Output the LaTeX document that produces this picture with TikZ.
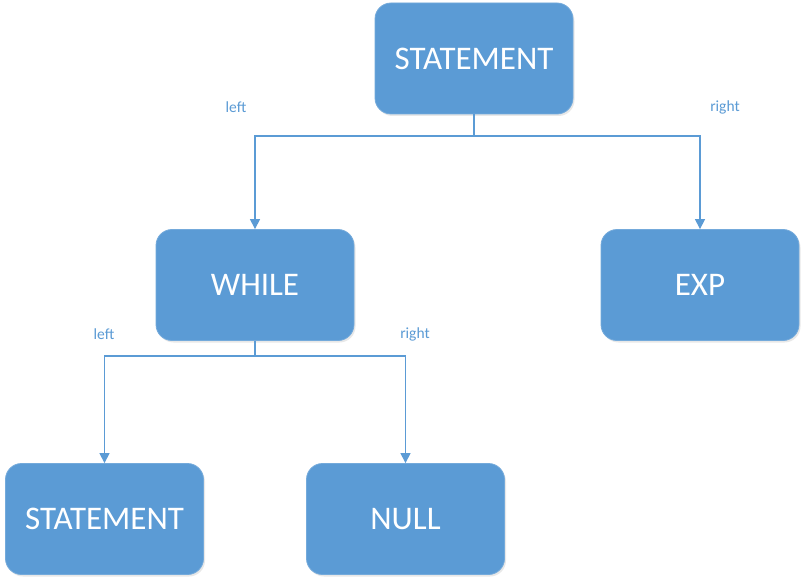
\documentclass[tikz,border=0pt]{standalone}
\usepackage{fontspec}
\setmainfont{Carlito}
\usetikzlibrary{arrows.meta,shadows}
\definecolor{boxblue}{HTML}{5B9BD5}
\tikzset{
  treebox/.style={draw=boxblue!85!white, line width=0.8pt, fill=boxblue, rounded corners=16pt,
    minimum width=198pt, minimum height=111pt, inner sep=0pt, text=white,
    font=\fontsize{33}{38}\selectfont,
    drop shadow={opacity=0.18, shadow xshift=1.5pt, shadow yshift=-2pt}},
  link/.style={draw=boxblue, line width=1.2pt, -{Triangle[width=10pt,length=10pt]}},
  edgelabel/.style={text=boxblue, font=\fontsize{15.5}{18}\selectfont, inner sep=0pt}
}
\begin{document}
\begin{tikzpicture}[x=1pt,y=-1pt]
\useasboundingbox[fill=white] (0,0) rectangle (806,583);
\node[treebox] (top) at (474,58.5) {STATEMENT};
\node[treebox] (while) at (255,285) {WHILE};
\node[treebox] (exp) at (700,285) {EXP};
\node[treebox] (stmt) at (104.5,519) {STATEMENT};
\node[treebox] (null) at (405.5,519) {NULL};
\coordinate (j1) at (474,136);
\coordinate (j2) at (255,356);
\draw[link] (top.south) -- (j1) -| (while.north);
\draw[link] (j1) -| (exp.north);
\draw[link] (while.south) -- (j2) -| (stmt.north);
\draw[link] (j2) -| (null.north);
\node[edgelabel] (l1) at (236,107) {left};
\node[edgelabel] (r1) at (725,107) {right};
\node[edgelabel] (l2) at (104,334) {left};
\node[edgelabel] (r2) at (415,334) {right};
\end{tikzpicture}
\end{document}
